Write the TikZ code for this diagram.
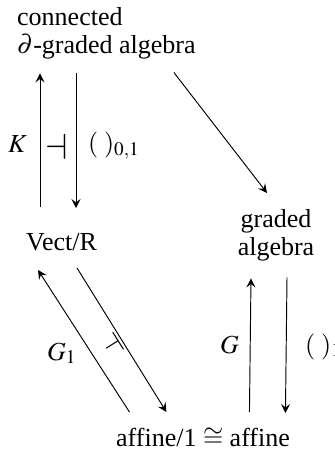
\documentclass[tikz,border=0pt]{standalone}
\usepackage{mathptmx}
\usepackage[no-math]{fontspec}
\setmainfont{Liberation Serif}
\usetikzlibrary{arrows.meta}

\begin{document}
\begin{tikzpicture}[x=1pt, y=-1pt, inner sep=0pt,
	obj/.style={font=\fontsize{26}{28}\selectfont},
	arr/.style={-{Stealth[length=9pt, width=9pt, inset=3.5pt]}, line width=0.95pt}]
	\useasboundingbox (0, 0) rectangle (334, 454);
	\node [obj, align=left, anchor=north west] (top) at (17, 7) {connected\\$\partial$-graded algebra};
	\node [obj, anchor=base west] (vect) at (26, 250) {Vect/R};
	\node [obj, align=center, anchor=north] (graded) at (276, 209) {graded\\algebra};
	\node [obj, anchor=base] (affine) at (203, 446) {affine/1 $\cong$ affine};
	\draw [arr] ([shift={(14, -43)}]vect.base west) -- ([shift={(23, 14.4)}]top.south west);
	\draw [arr] ([shift={(59, 14.4)}]top.south west) -- ([shift={(50, -42)}]vect.base west);
	\draw [arr] ([shift={(-22, 13.4)}]top.south east) -- ([shift={(-9, -16)}]graded.north);
	\draw [arr] ([shift={(13.5, -34)}]affine.base west) -- ([shift={(12, 20)}]vect.base west);
	\draw [arr] ([shift={(51, 18)}]vect.base west) -- ([shift={(50.5, -34)}]affine.base west);
	\draw [arr] ([shift={(133.5, -34)}]affine.base west) -- ([shift={(-25, 17.4)}]graded.south);
	\draw [arr] ([shift={(11, 16.4)}]graded.south) -- ([shift={(169.5, -33)}]affine.base west);
	\node [obj, anchor=base east] (k) at (27, 153) {$K$};
	\node [obj, scale=1.4] (adj1) at (57, 147) {$\dashv$};
	\node [obj, anchor=base west] (p01) at (88, 152) {$(\;)_{0,1}$};
	\node [obj, anchor=base west] (g1) at (47, 360) {$G_1$};
	\node [obj, rotate=32, scale=1.15] (adj2) at (113, 345) {$\dashv$};
	\node [obj, anchor=base east] (g) at (239, 353) {$G$};
	\node [obj, anchor=base west] (p1) at (305, 353) {$(\;)_1$};
\end{tikzpicture}
\end{document}
